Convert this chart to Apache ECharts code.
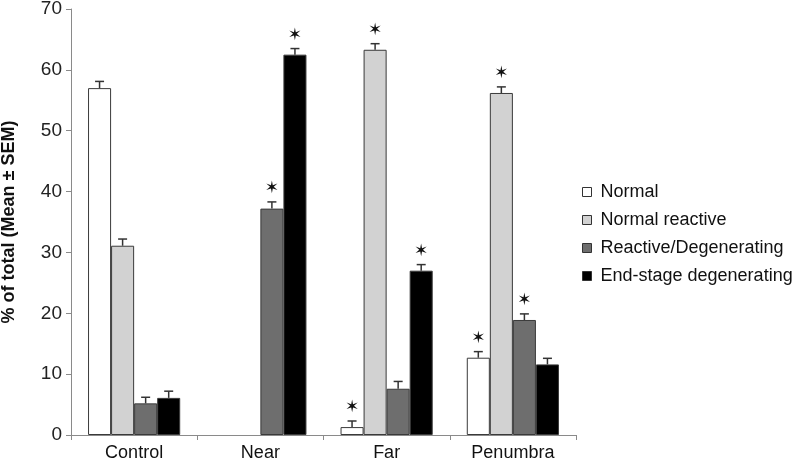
<!DOCTYPE html>
<html>
<head>
<meta charset="utf-8">
<script src="https://cdn.jsdelivr.net/npm/echarts@6/dist/echarts.min.js"></script>
<style>html,body{margin:0;padding:0;background:#fff;}#c{width:792px;height:463px;}</style>
</head>
<body>
<div id="c"></div>
<script>
const categories = ['Control', 'Near', 'Far', 'Penumbra'];
const seriesNames = ['Normal', 'Normal reactive', 'Reactive/Degenerating', 'End-stage degenerating'];
const normal = [57.0, 0, 1.3, 12.7];
const normalReactive = [31.1, 0, 63.3, 56.2];
const reactiveDeg = [5.2, 37.2, 7.6, 18.9];
const endStage = [6.1, 62.5, 27.0, 11.6];
const semNormal = [1.1, 0, 1.0, 1.0];
const semNormalReactive = [1.1, 0, 1.0, 1.0];
const semReactiveDeg = [1.0, 1.1, 1.2, 1.0];
const semEndStage = [1.1, 1.0, 1.0, 1.0];
const starNormal = [false, false, true, true];
const starNormalReactive = [false, false, true, true];
const starReactiveDeg = [false, true, false, true];
const starEndStage = [false, true, true, false];
const yTicks = [0, 10, 20, 30, 40, 50, 60, 70];

const values = [normal, normalReactive, reactiveDeg, endStage];
const sems = [semNormal, semNormalReactive, semReactiveDeg, semEndStage];
const stars = [starNormal, starNormalReactive, starReactiveDeg, starEndStage];
const colors = ['#ffffff', '#d2d2d2', '#6e6e6e', '#000000'];
const barFrac = 23 / 126;
const FONT = 'Liberation Sans, Arial, sans-serif';

const chart = echarts.init(document.getElementById('c'), null, {renderer: 'canvas'});
const series = [];
values.forEach((vals, i) => {
  series.push({
    name: seriesNames[i], type: 'bar',
    data: vals.map(v => v === 0 ? {value: 0, itemStyle: {borderWidth: 0}} : v),
    barWidth: (barFrac * 100).toFixed(2) + '%', barGap: '0%',
    itemStyle: {color: colors[i], borderColor: '#3a3a3a', borderWidth: 1},
    emphasis: {disabled: true}, animation: false
  });
});
values.forEach((vals, i) => {
  const data = vals.map((v, k) => [k, v, sems[i][k], stars[i][k] ? 1 : 0]);
  series.push({
    type: 'custom', animation: false, z: 5,
    data: data,
    renderItem: function (params, api) {
      const k = api.value(0), v = api.value(1), s = api.value(2), st = api.value(3);
      if (!v) return null;
      const band = api.size([1, 0])[0];
      const bw = band * barFrac;
      const base = api.coord([k, v]);
      const top = api.coord([k, v + s]);
      const x = base[0] + (i - 1.5) * bw;
      const children = [
        {type: 'line', shape: {x1: x, y1: base[1], x2: x, y2: top[1]}, style: {stroke: '#333', lineWidth: 1.5}},
        {type: 'line', shape: {x1: x - 4.5, y1: top[1], x2: x + 4.5, y2: top[1]}, style: {stroke: '#333', lineWidth: 1.5}}
      ];
      if (st) {
        children.push({type: 'text', style: {text: '\u2736', x: x, y: top[1] - 13, align: 'center', verticalAlign: 'middle', fontSize: 17, fontFamily: 'DejaVu Sans', fill: '#111'}});
      }
      return {type: 'group', children: children};
    }
  });
});

chart.setOption({
  backgroundColor: '#fff',
  animation: false,
  grid: {left: 71, right: 216, top: 9, bottom: 28, containLabel: false, outerBoundsMode: 'none'},
  legend: {
    data: seriesNames, orient: 'vertical', left: 577, top: 178,
    itemWidth: 9, itemHeight: 9, itemGap: 10,
    icon: 'rect',
    itemStyle: {borderColor: '#333', borderWidth: 1},
    textStyle: {fontFamily: FONT, fontSize: 18, color: '#111', padding: [0, 0, 0, 4], lineHeight: 18},
    selectedMode: false
  },
  xAxis: {
    type: 'category', data: categories,
    axisLine: {lineStyle: {color: '#8a8a8a', width: 1}},
    axisTick: {show: true, length: 5, lineStyle: {color: '#8a8a8a'}},
    axisLabel: {fontFamily: FONT, fontSize: 18, color: '#111', margin: 9}
  },
  yAxis: {
    type: 'value', min: yTicks[0], max: yTicks[yTicks.length - 1], interval: 10,
    name: '% of total (Mean \u00b1 SEM)', nameLocation: 'middle', nameGap: 53,
    nameTextStyle: {fontFamily: FONT, fontSize: 18, fontWeight: 'bold', color: '#111'},
    axisLine: {show: true, lineStyle: {color: '#8a8a8a', width: 1}},
    axisTick: {show: true, length: 5, lineStyle: {color: '#8a8a8a'}},
    axisLabel: {fontFamily: FONT, fontSize: 19, color: '#222', margin: 9},
    splitLine: {show: false}
  },
  series: series
});
</script>
</body>
</html>
